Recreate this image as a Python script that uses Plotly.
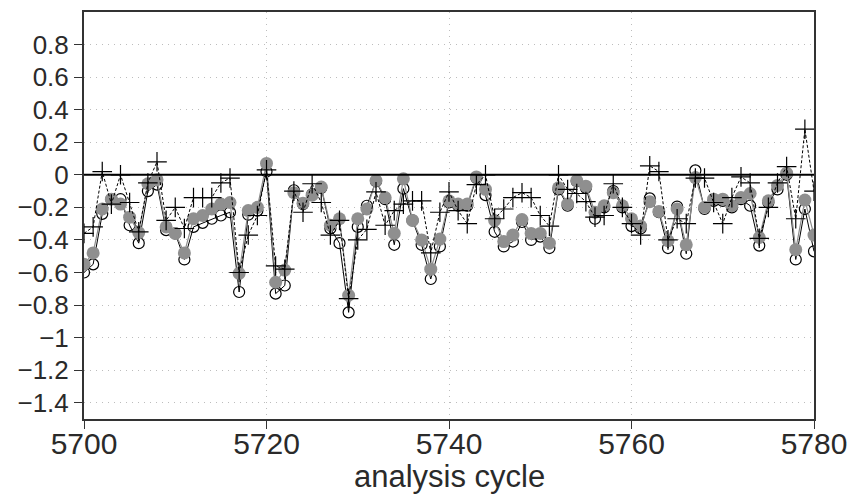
import plotly.graph_objects as go

cycles = list(range(5700, 5781))

open_circle_vals = [
    -0.60, -0.55, -0.24, -0.15, -0.15, -0.31, -0.42, -0.10, -0.06, -0.34,
    -0.36, -0.52, -0.32, -0.295, -0.27, -0.25, -0.23, -0.72, -0.245, -0.22,
    0.02, -0.73, -0.68, -0.095, -0.18, -0.12, -0.08, -0.33, -0.42, -0.845,
    -0.32, -0.19, -0.04, -0.15, -0.43, -0.085, -0.28, -0.43, -0.64, -0.44,
    -0.17, -0.19, -0.19, -0.02, -0.125, -0.35, -0.44, -0.41, -0.29, -0.40,
    -0.38, -0.45, -0.09, -0.19, -0.04, -0.08, -0.27, -0.20, -0.10, -0.20,
    -0.315, -0.33, -0.145, -0.23, -0.45, -0.195, -0.485, 0.027, -0.21, -0.16,
    -0.16, -0.20, -0.15, -0.19, -0.435, -0.17, -0.09, 0.00, -0.52, -0.21,
    -0.47,
]

gray_circle_vals = [
    -0.55, -0.48, -0.21, -0.15, -0.18, -0.26, -0.355, -0.055, -0.03, -0.32,
    -0.36, -0.48, -0.27, -0.25, -0.21, -0.18, -0.17, -0.605, -0.22, -0.20,
    0.07, -0.66, -0.585, -0.11, -0.175, -0.125, -0.075, -0.31, -0.27, -0.74,
    -0.27, -0.21, -0.035, -0.14, -0.36, -0.025, -0.28, -0.40, -0.58, -0.395,
    -0.16, -0.18, -0.18, -0.013, -0.09, -0.28, -0.41, -0.37, -0.275, -0.36,
    -0.36, -0.42, -0.08, -0.18, -0.035, -0.07, -0.23, -0.19, -0.11, -0.19,
    -0.27, -0.315, -0.165, -0.225, -0.405, -0.21, -0.43, -0.017, -0.20, -0.15,
    -0.15, -0.19, -0.14, -0.115, -0.385, -0.16, -0.065, 0.01, -0.46, -0.155,
    -0.37,
]

plus_vals = [
    -0.36, -0.32, 0.02, -0.18, 0.00, -0.17, -0.35, -0.05, 0.08, -0.28,
    -0.20, -0.33, -0.14, -0.14, -0.14, -0.05, -0.02, -0.60, -0.37, -0.25,
    0.03, -0.56, -0.58, -0.10, -0.23, -0.055, -0.17, -0.37, -0.28, -0.76,
    -0.40, -0.335, -0.105, -0.31, -0.22, -0.18, -0.16, -0.16, -0.48, -0.23,
    -0.105, -0.22, -0.30, -0.06, 0.00, -0.27, -0.21, -0.14, -0.11, -0.14,
    -0.25, -0.315, 0.00, -0.09, -0.115, -0.165, -0.26, -0.25, -0.055, -0.20,
    -0.30, -0.37, 0.055, 0.02, -0.40, -0.27, -0.30, -0.02, -0.02, -0.17,
    -0.30, -0.14, -0.013, -0.05, -0.39, -0.20, -0.05, 0.05, -0.27, 0.28,
    -0.10,
]

y_tick_vals = [0.8, 0.6, 0.4, 0.2, 0, -0.2, -0.4, -0.6, -0.8, -1.0, -1.2, -1.4]
y_tick_text = ["0.8", "0.6", "0.4", "0.2", "0", "\u22120.2", "\u22120.4", "\u22120.6",
               "\u22120.8", "\u22121", "\u22121.2", "\u22121.4"]
x_tick_vals = [5700, 5720, 5740, 5760, 5780]
x_title = "analysis cycle"

FONT = "Liberation Sans"
GRID = dict(showgrid=True, gridcolor="#bdbdbd", griddash="1px,5px", gridwidth=1)

FIG_W, FIG_H = 851, 495
M_L, M_R, M_T, M_B = 84, 37, 12, 76
plot_h = FIG_H - M_T - M_B

fig = go.Figure()

fig.add_trace(go.Scatter(
    x=cycles, y=open_circle_vals, mode="lines+markers",
    line=dict(color="black", width=1),
    marker=dict(symbol="circle-open", size=11, color="black", line=dict(width=1.2)),
    showlegend=False,
))
fig.add_trace(go.Scatter(
    x=cycles, y=gray_circle_vals, mode="lines+markers",
    line=dict(color="#8c8c8c", width=1.2),
    marker=dict(symbol="circle", size=13, color="#8f8f8f"),
    showlegend=False,
))
fig.add_trace(go.Scatter(
    x=cycles, y=plus_vals, mode="lines+markers",
    line=dict(color="black", width=1, dash="3px,2px"),
    marker=dict(symbol="cross-thin-open", size=14, color="black", line=dict(width=1.2, color="black")),
    showlegend=False,
))

fig.add_hline(y=0, line=dict(color="black", width=2))

fig.add_annotation(
    text=x_title, xref="paper", yref="paper", x=0.5, y=-57 / plot_h,
    xanchor="center", yanchor="middle", showarrow=False,
    font=dict(size=31, family=FONT, color="#2a2a2a"),
)

fig.update_layout(
    width=FIG_W, height=FIG_H,
    margin=dict(l=M_L, r=M_R, t=M_T, b=M_B),
    paper_bgcolor="white", plot_bgcolor="white",
    font=dict(family=FONT, color="#2a2a2a", size=24),
)
fig.update_xaxes(
    range=[5700, 5780], tickvals=x_tick_vals,
    ticks="outside", ticklen=8, tickcolor="#333333",
    showline=True, linecolor="#333333", linewidth=2, mirror=True,
    zeroline=False, automargin=False,
    tickfont=dict(size=30), ticklabelstandoff=-11,
    **GRID,
)
fig.update_yaxes(
    range=[-1.5, 1.0], tickvals=y_tick_vals, ticktext=y_tick_text,
    ticks="outside", ticklen=8, tickcolor="#333333",
    showline=True, linecolor="#333333", linewidth=2, mirror=True,
    zeroline=False, automargin=False,
    tickfont=dict(size=26),
    **GRID,
)

fig.write_html(
    "out.html",
    config={"displayModeBar": False},
    post_script="document.body.style.margin='0';document.body.style.overflow='hidden';",
)
